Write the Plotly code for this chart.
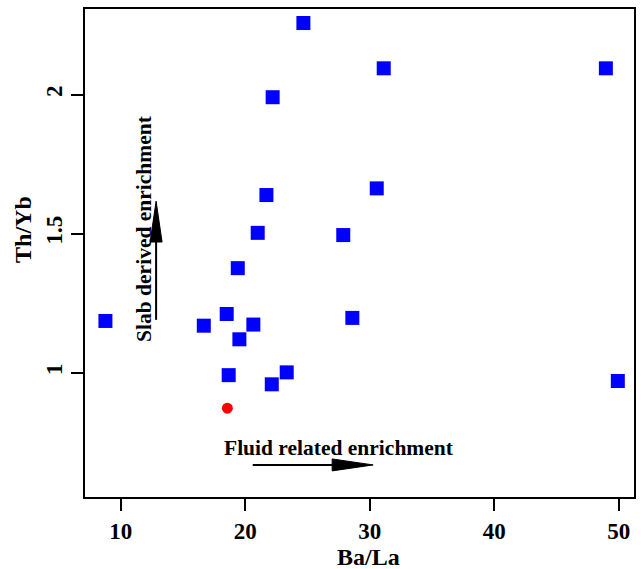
import plotly.graph_objects as go

# Data
ba_la = [8.77, 16.67, 18.51, 20.65, 19.53, 18.67, 22.13, 23.33, 19.40, 21.00,
         21.70, 22.20, 24.67, 31.12, 48.96, 30.56, 27.87, 28.60, 49.92]
th_yb = [1.186, 1.169, 1.211, 1.173, 1.120, 0.991, 0.958, 1.001, 1.376, 1.503,
         1.639, 1.991, 2.258, 2.095, 2.095, 1.663, 1.495, 1.197, 0.970]
red_x = [18.56]
red_y = [0.872]

x_range = [7.05, 51.3]
y_range = [0.549, 2.312]
x_ticks = [10, 20, 30, 40, 50]
x_ticklabels = ["10", "20", "30", "40", "50"]
y_ticks = [1, 1.5, 2]
y_ticklabels = ["1", "1.5", "2"]

font_family = "Liberation Serif, Times New Roman, serif"

fig = go.Figure()
fig.add_trace(go.Scatter(x=ba_la, y=th_yb, mode="markers",
                         marker=dict(symbol="square", size=14, color="#0000FF",
                                     line=dict(width=0)),
                         showlegend=False, cliponaxis=False))
fig.add_trace(go.Scatter(x=red_x, y=red_y, mode="markers",
                         marker=dict(symbol="circle", size=11, color="#FF0000",
                                     line=dict(width=0)),
                         showlegend=False))

# Arrow geometry (annotation positions)
vx, vy0, vy1 = 12.84, 1.19, 1.617
hy, hx0, hx1 = 0.668, 20.6, 30.27
v_head_len, v_head_half = 0.147, 0.48
h_head_len, h_head_half = 3.29, 0.0215

shapes = [
    dict(type="line", xref="x", yref="y", x0=vx, x1=vx, y0=vy0, y1=vy1 - v_head_len / 2,
         line=dict(color="black", width=2)),
    dict(type="path", xref="x", yref="y",
         path=f"M {vx - v_head_half} {vy1 - v_head_len} L {vx + v_head_half} {vy1 - v_head_len} L {vx} {vy1} Z",
         fillcolor="black", line=dict(color="black", width=1)),
    dict(type="line", xref="x", yref="y", x0=hx0, x1=hx1 - h_head_len / 2, y0=hy, y1=hy,
         line=dict(color="black", width=2)),
    dict(type="path", xref="x", yref="y",
         path=f"M {hx1 - h_head_len} {hy - h_head_half} L {hx1 - h_head_len} {hy + h_head_half} L {hx1} {hy} Z",
         fillcolor="black", line=dict(color="black", width=1)),
    dict(type="rect", xref="paper", yref="paper", x0=0, x1=1, y0=0, y1=1,
         line=dict(color="black", width=2)),
]

annotations = [
    dict(x=11.85, y=1.52, xref="x", yref="y", text="<b>Slab derived enrichment</b>",
         textangle=-90, showarrow=False, font=dict(family=font_family, size=21.5, color="black")),
    dict(x=27.49, y=0.73, xref="x", yref="y", text="<b>Fluid related enrichment</b>",
         showarrow=False, font=dict(family=font_family, size=21.5, color="black")),
    # axis titles
    dict(x=0.516, y=0, xref="paper", yref="paper", yanchor="middle", xanchor="center",
         yshift=-59, text="<b>Ba/La</b>", showarrow=False,
         font=dict(family=font_family, size=24, color="black")),
    dict(x=0, y=0.548, xref="paper", yref="paper", yanchor="middle", xanchor="center",
         xshift=-60.5, text="<b>Th/Yb</b>", textangle=-90, showarrow=False,
         font=dict(family=font_family, size=24, color="black")),
]

fig.update_layout(
    width=641, height=569,
    margin=dict(l=84, r=6, t=8, b=71),
    paper_bgcolor="white", plot_bgcolor="white",
    font=dict(family=font_family, size=20, color="black"),
    shapes=shapes, annotations=annotations,
    xaxis=dict(range=x_range, tickvals=x_ticks,
               ticktext=[f"<b>{t}</b>" for t in x_ticklabels],
               ticks="outside", ticklen=12,
               tickwidth=1.5, tickcolor="black", showgrid=False, zeroline=False,
               showline=False, tickfont=dict(family=font_family, size=23)),
    yaxis=dict(range=y_range, tickvals=y_ticks,
               ticktext=[f"<b>{t}</b>" for t in y_ticklabels], ticks="outside",
               ticklen=12, tickwidth=1.5, tickcolor="black", showgrid=False, zeroline=False,
               showline=False, tickangle=-90,
               tickfont=dict(family=font_family, size=23)),
)

fig.write_html("out.html")
